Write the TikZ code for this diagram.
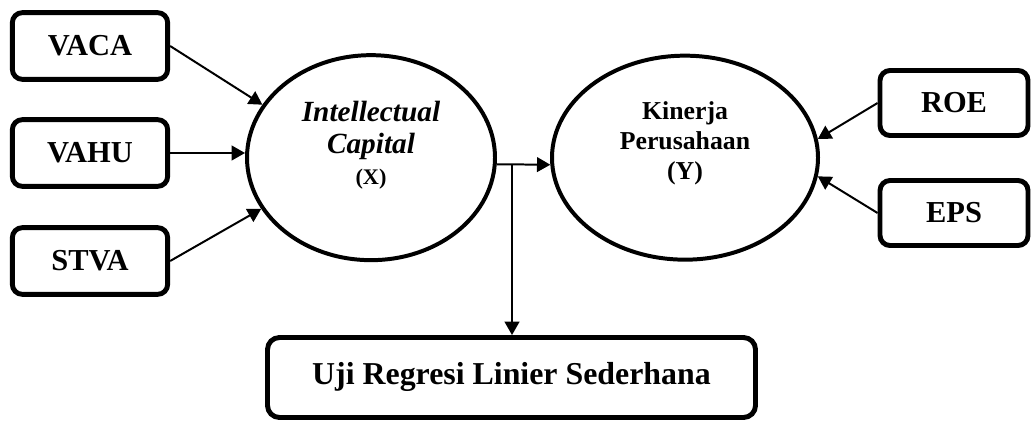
\documentclass[tikz,border=0pt]{standalone}
\usepackage{fontspec}
\setmainfont{Liberation Serif}
\usetikzlibrary{positioning, shapes.geometric, arrows.meta}

\begin{document}
\begin{tikzpicture}[
round_box/.style={rectangle, rounded corners=1.5mm, draw=black, fill=white, line width=2.1pt, minimum width=23.3mm, minimum height=10mm, inner sep=2pt, font=\bfseries\fontsize{13}{15}\selectfont},
side_box/.style={round_box, minimum width=22.2mm, minimum height=9.75mm},
wide_box/.style={round_box, rounded corners=1.8mm, minimum width=73.2mm, minimum height=12mm, text depth=1.2mm, font=\bfseries\fontsize{13.6}{16}\selectfont},
latent_ellipse/.style={ellipse, draw=black, fill=white, line width=1.7pt, inner sep=0pt},
ellipse_text/.style={align=center, inner sep=0pt},
out_arrow/.style={-{Triangle[length=2mm, width=2.2mm]}, line width=0.85pt}
]

\useasboundingbox (0,0) rectangle (15.48,6.345);

% indikator X
\node[round_box](vaca) at (1.35,5.655) {VACA};
\node[round_box](vahu) at (1.35,4.05) {VAHU};
\node[round_box](stva) at (1.35,2.43) {STVA};

% variabel
\node[latent_ellipse, minimum width=37.2mm, minimum height=30.75mm](intellectual_capital) at (5.565,3.98) {};
\node[latent_ellipse, minimum width=39.9mm, minimum height=30.6mm](kinerja) at (10.275,3.98) {};

\node[ellipse_text, font=\bfseries\itshape\fontsize{12.5}{14}\selectfont](intellectual_capital_text) at ([yshift=1.9mm]intellectual_capital.center) {Intellectual\\Capital\\[-1pt]{\upshape\fontsize{9.5}{11}\selectfont (X)}};
\node[ellipse_text, font=\bfseries\fontsize{11}{12.8}\selectfont](kinerja_text) at ([yshift=2.2mm]kinerja.center) {Kinerja\\Perusahaan\\(Y)};

% indikator Y
\node[side_box](roe) at (14.31,4.8) {ROE};
\node[side_box](eps) at (14.31,3.15) {EPS};

% analisis
\node[wide_box](regresi) at (7.6725,0.6825) {Uji Regresi Linier Sederhana};

\coordinate (split) at (7.68,3.87);

\draw[out_arrow](vaca.east) to [] (intellectual_capital.154);
\draw[out_arrow](vahu.east) to [] (vahu.east -| intellectual_capital.west);
\draw[out_arrow](stva.east) to [] (intellectual_capital.205);

\draw[out_arrow](roe.west) to [] (kinerja.8.5);
\draw[out_arrow](eps.west) to [] (kinerja.-8.5);

\draw[out_arrow](intellectual_capital.-3.4) to [] (kinerja.183.1);
\draw[out_arrow](split) to [] (split |- regresi.north);

\end{tikzpicture}
\end{document}
